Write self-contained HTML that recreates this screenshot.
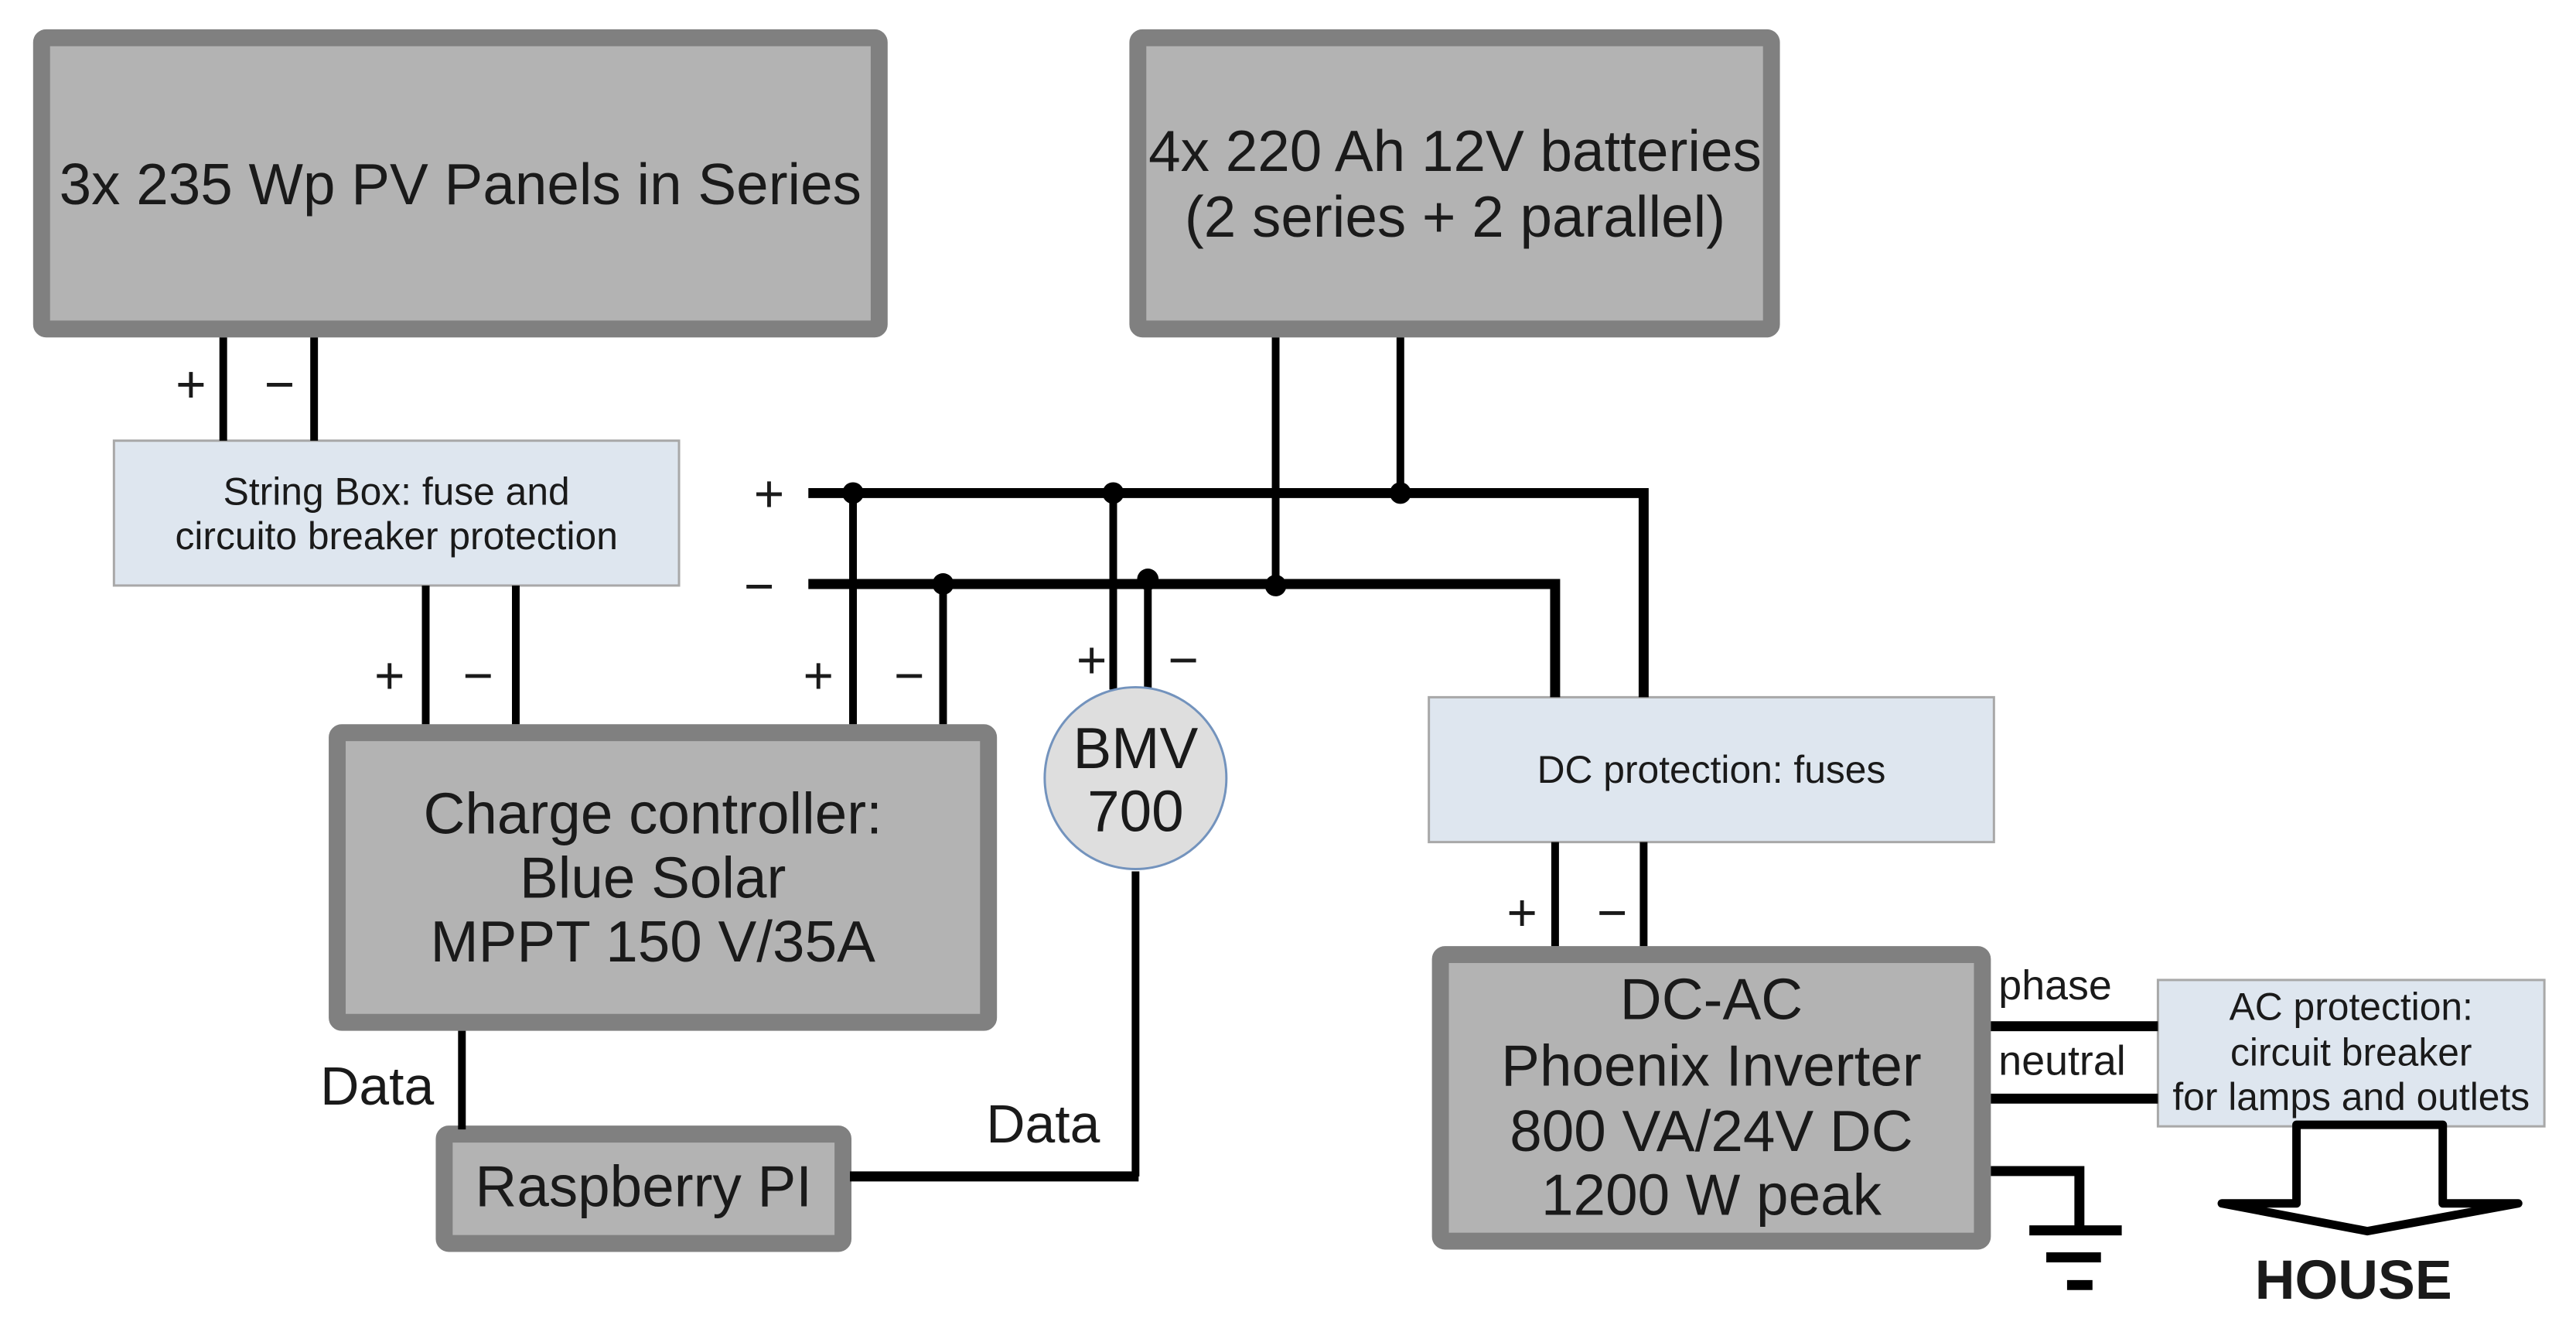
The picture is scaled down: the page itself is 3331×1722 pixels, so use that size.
<!DOCTYPE html>
<html><head><meta charset="utf-8"><style>
html,body{margin:0;padding:0;background:#fff;}
svg{display:block;}
text{font-family:"Liberation Sans",Arial,sans-serif;fill:#1a1a1a;}
</style></head><body>
<svg width="3331" height="1722" viewBox="0 0 3331 1722" xmlns="http://www.w3.org/2000/svg">
<rect width="3331" height="1722" fill="#fff"/>
<g transform="scale(0.9955,0.996)">
<g fill="#b3b3b3" stroke="#808080" stroke-width="22">
<rect x="54" y="49" width="1088" height="378" rx="6"/>
<rect x="1478" y="49" width="823" height="378" rx="6"/>
<rect x="438" y="951" width="846" height="376" rx="6"/>
<rect x="577" y="1472" width="518" height="142" rx="6"/>
<rect x="1871" y="1239" width="704" height="372" rx="6"/>
</g>
<g fill="#dee6ef" stroke="#a8a8a8" stroke-width="3">
<rect x="148" y="572" width="734" height="188"/>
<rect x="1856" y="905" width="734" height="188"/>
<rect x="2803" y="1272" width="502" height="190"/>
</g>
<g stroke="#000" stroke-width="10" fill="none">
<line x1="290" y1="438" x2="290" y2="572"/>
<line x1="408" y1="438" x2="408" y2="572"/>
<line x1="553" y1="760" x2="553" y2="940"/>
<line x1="670" y1="760" x2="670" y2="940"/>
<line x1="1108" y1="640" x2="1108" y2="940"/>
<line x1="1225" y1="758" x2="1225" y2="940"/>
<line x1="1446" y1="640" x2="1446" y2="895"/>
<line x1="1491" y1="752" x2="1491" y2="895"/>
<line x1="1657" y1="438" x2="1657" y2="758"/>
<line x1="1819" y1="438" x2="1819" y2="640"/>
<line x1="2020" y1="1093" x2="2020" y2="1228"/>
<line x1="2135" y1="1093" x2="2135" y2="1228"/>
<line x1="600" y1="1338" x2="600" y2="1466"/>
<polyline points="1475,1131 1475,1527"/>
</g>
<g stroke="#000" stroke-width="13" fill="none">
<polyline points="1050,640 2135,640 2135,905"/>
<polyline points="1050,758 2020,758 2020,905"/>
<polyline points="1104,1527 1479,1527"/>
<line x1="2586" y1="1332" x2="2803" y2="1332"/>
<line x1="2586" y1="1426" x2="2803" y2="1426"/>
<polyline points="2586,1520 2701,1520 2701,1597"/>
<line x1="2636" y1="1597" x2="2756" y2="1597"/>
<line x1="2658" y1="1632" x2="2729" y2="1632"/>
<line x1="2685" y1="1668" x2="2718" y2="1668"/>
</g>
<g fill="#000">
<circle cx="1108" cy="640" r="14"/>
<circle cx="1446" cy="640" r="14"/>
<circle cx="1819" cy="640" r="14"/>
<circle cx="1225" cy="758" r="14"/>
<circle cx="1491" cy="752" r="14"/>
<circle cx="1657" cy="760" r="14"/>
</g>
<ellipse cx="1475" cy="1010" rx="118" ry="118" fill="#dedede" stroke="#7393bd" stroke-width="3"/>
<polygon points="2983,1460 3173,1460 3173,1562 3271,1562 3075,1598 2886,1562 2983,1562" fill="#fff" stroke="#000" stroke-width="11" stroke-linejoin="round"/>
<g font-size="75" text-anchor="middle">
<text x="598" y="265">3x 235 Wp PV Panels in Series</text>
<text x="1890" y="222">4x 220 Ah 12V batteries</text>
<text x="1890" y="307">(2 series + 2 parallel)</text>
<text x="848" y="1082">Charge controller:</text>
<text x="848" y="1165">Blue Solar</text>
<text x="848" y="1248">MPPT 150 V/35A</text>
<text x="836" y="1566">Raspberry PI</text>
<text x="1475" y="997">BMV</text>
<text x="1475" y="1079">700</text>
<text x="2223" y="1323">DC-AC</text>
<text x="2223" y="1409">Phoenix Inverter</text>
<text x="2223" y="1494">800 VA/24V DC</text>
<text x="2223" y="1577">1200 W peak</text>
</g>
<g font-size="70">
<text x="416" y="1434">Data</text>
<text x="1281" y="1483">Data</text>
</g>
<g font-size="50" text-anchor="middle">
<text x="515" y="655">String Box: fuse and</text>
<text x="515" y="713">circuito breaker protection</text>
<text x="2223" y="1016">DC protection: fuses</text>
<text x="3054" y="1324">AC protection:</text>
<text x="3054" y="1383">circuit breaker</text>
<text x="3054" y="1441">for lamps and outlets</text>
</g>
<g font-size="54">
<text x="2596" y="1297">phase</text>
<text x="2596" y="1395">neutral</text>
</g>
<g font-size="68" text-anchor="middle">
<text x="248" y="522">+</text><text x="363" y="522">−</text>
<text x="506" y="900">+</text><text x="621" y="900">−</text>
<text x="1063" y="900">+</text><text x="1181" y="900">−</text>
<text x="999" y="664">+</text><text x="986" y="784">−</text>
<text x="1418" y="880">+</text><text x="1537" y="880">−</text>
<text x="1977" y="1208">+</text><text x="2094" y="1208">−</text>
</g>
<text x="3057" y="1686" font-size="72" font-weight="bold" text-anchor="middle">HOUSE</text>
</g>
</svg>
</body></html>
